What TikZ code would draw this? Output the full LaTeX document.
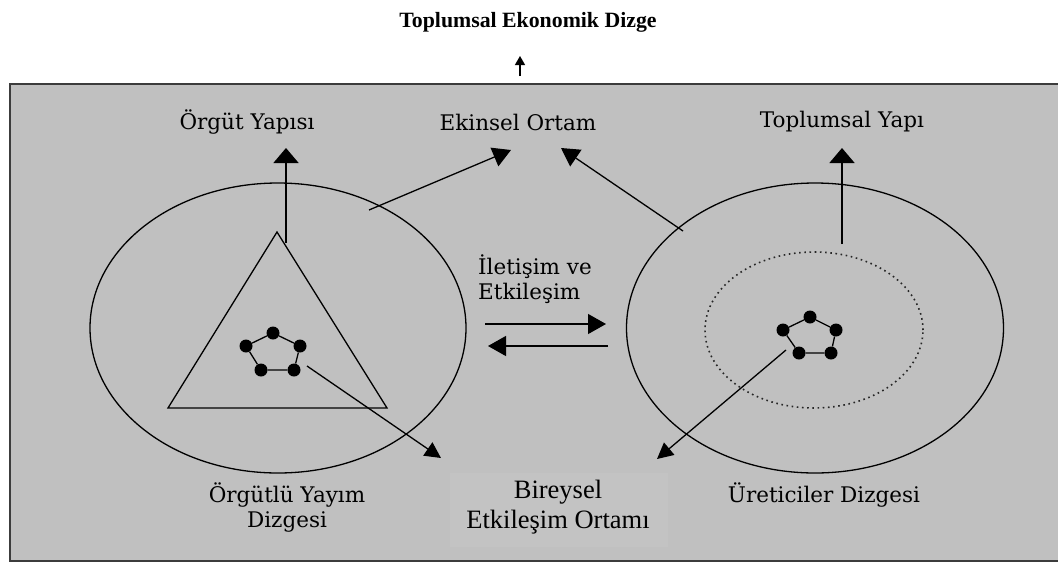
\documentclass[tikz,border=0pt]{standalone}
\usepackage{fontspec}
\setmainfont{Liberation Serif}
\newfontfamily\bmfont{DejaVu Serif}
\usetikzlibrary{arrows.meta,shapes.geometric}
\definecolor{panel}{RGB}{192,192,192}
\definecolor{panelhi}{RGB}{195,195,195}
\definecolor{frameln}{RGB}{60,60,60}
\tikzset{
  lbl/.style={font=\bmfont\fontsize{21.5}{25}\selectfont, inner sep=0pt, align=center},
  tlbl/.style={font=\fontsize{26.5}{30}\selectfont, inner sep=0pt, align=center},
  arr/.style={-{Triangle[length=18pt,width=20pt]}, line width=1.3pt},
  varr/.style={-{Triangle[length=15pt,width=25pt]}, line width=1.6pt},
  sarr/.style={-{Triangle[length=16pt,width=16pt]}, line width=1.3pt},
  dot/.style={circle, fill=black, minimum size=13pt, inner sep=0pt},
  ring/.style={ellipse, draw, line width=1.3pt, inner sep=0pt},
  edge/.style={line width=1.3pt},
}
\begin{document}
\begin{tikzpicture}[x=1pt,y=-1pt]
\useasboundingbox (0,0) rectangle (1058,563);
% frame
\draw[fill=panel, draw=frameln, line width=2pt] (10,84) rectangle (1070,561);
\fill[panelhi] (450,473) rectangle (668,547);
% title
\node[font=\bfseries\fontsize{21.8}{26}\selectfont, inner sep=0pt] (title) at (528,22) {Toplumsal Ekonomik Dizge};
\coordinate (ttail) at (520,76);
\coordinate (ttip) at (520,56);
\draw[-{Triangle[length=9pt,width=10pt]}, line width=1.3pt] (ttail) -- (ttip);
% labels
\node[lbl] (orgut) at (247,122) {Örgüt Yapısı};
\node[lbl] (ekinsel) at (518,122) {Ekinsel Ortam};
\node[lbl] (toplumsal) at (842,122) {Toplumsal Yapı};
\node[lbl] (orgutlu) at (287,507) {Örgütlü Yayım\\Dizgesi};
\node[lbl] (uretici) at (824,495) {Üreticiler Dizgesi};
\node[tlbl] (bireysel) at (558,507) {Bireysel\\Etkileşim Ortamı};
\node[lbl, align=left, anchor=west] (iletisim) at (478,279) {İletişim ve\\Etkileşim};
% ellipses
\node[ring, minimum width=376pt, minimum height=290pt] (leftE) at (278,328) {};
\node[ring, minimum width=377pt, minimum height=290pt] (rightE) at (815,328) {};
\node[ellipse, draw=black!85, line width=1.6pt, dash pattern=on 1.6pt off 3.6pt, minimum width=218pt, minimum height=156pt, inner sep=0pt] (innerE) at (814,330) {};
% triangle
\coordinate (tA) at (277,232);
\coordinate (tB) at (168,408);
\coordinate (tC) at (387,408);
\draw[line width=1.3pt, line join=miter] (tA) -- (tB) -- (tC) -- cycle;
% left pentagon
\node[dot] (L1) at (273,333) {};
\node[dot] (L2) at (246,346) {};
\node[dot] (L3) at (300,346) {};
\node[dot] (L4) at (261,370) {};
\node[dot] (L5) at (294,370) {};
\draw[edge] (L1) -- (L2) (L1) -- (L3) (L2) -- (L4) (L3) -- (L5) (L4) -- (L5);
% right pentagon
\node[dot] (R1) at (810,317) {};
\node[dot] (R2) at (783,330) {};
\node[dot] (R3) at (836,330) {};
\node[dot] (R4) at (799,353) {};
\node[dot] (R5) at (831,353) {};
\draw[edge] (R1) -- (R2) (R1) -- (R3) (R2) -- (R4) (R3) -- (R5) (R4) -- (R5);
% vertical arrows
\coordinate (va1) at (286,243);
\coordinate (vt1) at (286,148);
\draw[varr] (va1) -- (vt1);
\coordinate (va2) at (842,244);
\coordinate (vt2) at (842,148);
\draw[varr] (va2) -- (vt2);
% arrows to Ekinsel Ortam
\coordinate (e1s) at (369,210);
\coordinate (e1t) at (511,150);
\draw[arr] (e1s) -- (e1t);
\coordinate (e2s) at (683,231);
\coordinate (e2t) at (561,148);
\draw[arr] (e2s) -- (e2t);
% middle arrows
\coordinate (m1s) at (485,324);
\coordinate (m1t) at (606,324);
\draw[arr] (m1s) -- (m1t);
\coordinate (m2s) at (608,346);
\coordinate (m2t) at (488,346);
\draw[arr] (m2s) -- (m2t);
% arrows to Bireysel
\coordinate (b1s) at (307,366);
\coordinate (b1t) at (441,458);
\draw[sarr] (b1s) -- (b1t);
\coordinate (b2s) at (786,350);
\coordinate (b2t) at (657,459);
\draw[sarr] (b2s) -- (b2t);
\end{tikzpicture}
\end{document}
